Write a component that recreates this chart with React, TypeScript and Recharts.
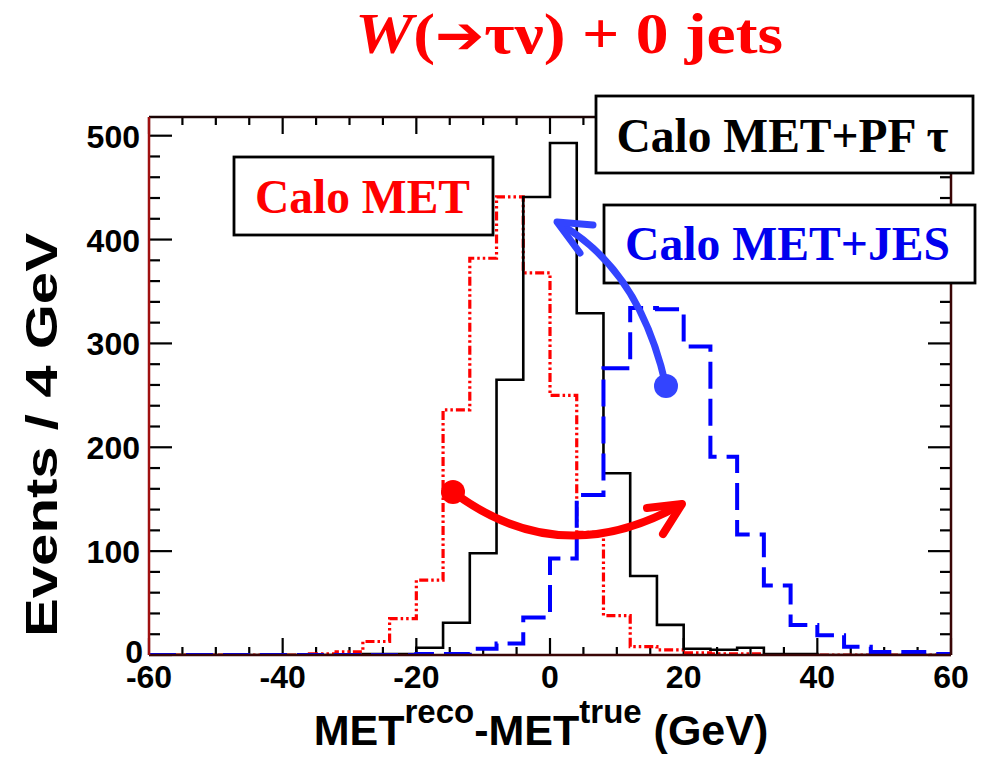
import React from "react";
import { ComposedChart, Line, XAxis, YAxis, ReferenceLine } from "recharts";

// ---- data (bin left edges, 4 GeV bins) ----
const binEdges = [-60, -56, -52, -48, -44, -40, -36, -32, -28, -24, -20, -16, -12, -8, -4, 0, 4, 8, 12, 16, 20, 24, 28, 32, 36, 40, 44, 48, 52, 56];
const lastEdge = 60;
const caloMET = [0, 0, 0, 0, 0, 0, 1, 3, 13, 35, 72, 236, 382, 441, 368, 250, 118, 38, 8, 5, 2, 1, 1, 0, 0, 0, 0, 0, 0, 0];
const caloMETpfTau = [0, 0, 0, 0, 0, 0, 0, 0, 1, 1, 7, 31, 98, 265, 441, 493, 329, 175, 76, 29, 6, 5, 7, 1, 1, 0, 0, 0, 0, 0];
const caloMETjes = [0, 0, 0, 0, 0, 0, 0, 0, 0, 0, 1, 1, 6, 11, 36, 93, 154, 276, 334, 333, 297, 191, 116, 67, 29, 19, 8, 3, 3, 1];
const xTicks = [-60, -55, -50, -45, -40, -35, -30, -25, -20, -15, -10, -5, 0, 5, 10, 15, 20, 25, 30, 35, 40, 45, 50, 55, 60];
const yTicks = [0, 20, 40, 60, 80, 100, 120, 140, 160, 180, 200, 220, 240, 260, 280, 300, 320, 340, 360, 380, 400, 420, 440, 460, 480, 500];
const xLabelTicks = [-60, -40, -20, 0, 20, 40, 60];
const yLabelTicks = [0, 100, 200, 300, 400, 500];

const rows = binEdges.map((e, i) => ({ x: e, red: caloMET[i], black: caloMETpfTau[i], blue: caloMETjes[i] }));
rows.push({ x: lastEdge, red: caloMET[caloMET.length - 1], black: caloMETpfTau[caloMETpfTau.length - 1], blue: caloMETjes[caloMETjes.length - 1] });

const SANS = "'Liberation Sans', Arial, Helvetica, sans-serif";
const SERIF = "'Liberation Serif', 'Times New Roman', serif";
const X_DOMAIN: [number, number] = [-60, 60];
const Y_DOMAIN: [number, number] = [0, 518];

// chart geometry (margins + axis sizes)
const W = 988, H = 758;
const MARGIN = { top: 87, right: 7, bottom: 73, left: 89 };
const XAXIS_H = 30, YAXIS_LW = 60, YAXIS_RW = 30;
const PL = MARGIN.left + YAXIS_LW;
const PR = W - MARGIN.right - YAXIS_RW;
const PT = MARGIN.top + XAXIS_H;
const PB = H - MARGIN.bottom - XAXIS_H;
// pixel -> data unit conversions for tick lengths
const yUnitsPerPx = (Y_DOMAIN[1] - Y_DOMAIN[0]) / (PB - PT);
const xUnitsPerPx = (X_DOMAIN[1] - X_DOMAIN[0]) / (PR - PL);

const BottomLabel = (p: any) => {
  const x = Number(p.x), y = Number(p.y);
  const v = p.payload.value;
  return (
    <text x={x} y={y + 33} textAnchor="middle" fontFamily={SANS} fontWeight="bold" fontSize={32} fill="#000">{v}</text>
  );
};
const LeftLabel = (p: any) => {
  const x = Number(p.x), y = Number(p.y);
  const v = p.payload.value;
  return (
    <text x={v === 0 ? x - 6 : x - 9} y={v === 0 ? y + 8 : y + 12} textAnchor="end" fontFamily={SANS} fontWeight="bold" fontSize={32} fill="#000">{v}</text>
  );
};

export default function App() {
  const tickRefs: React.ReactNode[] = [];
  xTicks.forEach((v) => {
    const len = (v % 20 === 0 ? 17 : 8) * yUnitsPerPx;
    tickRefs.push(
      <ReferenceLine key={"xb" + v} xAxisId="b" yAxisId="l" ifOverflow="visible"
        segment={[{ x: v, y: Y_DOMAIN[0] }, { x: v, y: Y_DOMAIN[0] + len }]} stroke="#000" strokeWidth={2.2} />
    );
    tickRefs.push(
      <ReferenceLine key={"xt" + v} xAxisId="b" yAxisId="l" ifOverflow="visible"
        segment={[{ x: v, y: Y_DOMAIN[1] }, { x: v, y: Y_DOMAIN[1] - len }]} stroke="#000" strokeWidth={2.2} />
    );
  });
  yTicks.forEach((v) => {
    const len = (v % 100 === 0 ? 23 : 11) * xUnitsPerPx;
    tickRefs.push(
      <ReferenceLine key={"yl" + v} xAxisId="b" yAxisId="l" ifOverflow="visible"
        segment={[{ x: X_DOMAIN[0], y: v }, { x: X_DOMAIN[0] + len, y: v }]} stroke="#000" strokeWidth={2.2} />
    );
    tickRefs.push(
      <ReferenceLine key={"yr" + v} xAxisId="b" yAxisId="l" ifOverflow="visible"
        segment={[{ x: X_DOMAIN[1], y: v }, { x: X_DOMAIN[1] - len, y: v }]} stroke="#000" strokeWidth={2.2} />
    );
  });

  return (
    <div style={{ position: "absolute", left: 0, top: 0, width: W, height: H, background: "#fff" }}>
      <ComposedChart width={W} height={H} data={rows} margin={MARGIN}>
        <XAxis xAxisId="b" dataKey="x" type="number" domain={X_DOMAIN} ticks={xLabelTicks} interval={0} height={XAXIS_H}
          tickSize={0} tickMargin={0} tickLine={false} axisLine={{ stroke: "#3a0606", strokeWidth: 2.5 }} tick={BottomLabel} allowDataOverflow />
        <XAxis xAxisId="t" orientation="top" dataKey="x" type="number" domain={X_DOMAIN} height={XAXIS_H}
          tickLine={false} tick={false} axisLine={{ stroke: "#1a0404", strokeWidth: 2.5 }} allowDataOverflow />
        <YAxis yAxisId="l" type="number" domain={Y_DOMAIN} ticks={yLabelTicks} interval={0} width={YAXIS_LW}
          tickSize={0} tickMargin={0} tickLine={false} axisLine={{ stroke: "#a01010", strokeWidth: 2.5 }} tick={LeftLabel} allowDataOverflow />
        <YAxis yAxisId="r" orientation="right" type="number" domain={Y_DOMAIN} width={YAXIS_RW}
          tickLine={false} tick={false} axisLine={{ stroke: "#3a0606", strokeWidth: 2.5 }} allowDataOverflow />
        {tickRefs}
        <Line xAxisId="b" yAxisId="l" type="stepAfter" dataKey="red" stroke="#ff0000" strokeWidth={3.2}
          strokeDasharray="9 3 2.5 3 2.5 3" dot={false} activeDot={false} isAnimationActive={false} strokeLinejoin="miter" />
        <Line xAxisId="b" yAxisId="l" type="stepAfter" dataKey="black" stroke="#000000" strokeWidth={2.6}
          dot={false} activeDot={false} isAnimationActive={false} strokeLinejoin="miter" />
        <Line xAxisId="b" yAxisId="l" type="stepAfter" dataKey="blue" stroke="#0000ff" strokeWidth={4}
          strokeDasharray="27 10" dot={false} activeDot={false} isAnimationActive={false} strokeLinejoin="miter" />
      </ComposedChart>

      <svg width={W} height={H} style={{ position: "absolute", left: 0, top: 0, pointerEvents: "none" }}>
        {/* title */}
        <text x={569} y={53} textAnchor="middle" fontFamily={SERIF} fontWeight="bold" fontSize={58} fill="#ff0000"
          textLength={428} lengthAdjust="spacingAndGlyphs">
          <tspan fontStyle="italic">W</tspan>(<tspan fontFamily="'DejaVu Sans', sans-serif" fontWeight="bold" fontSize={52}>➔</tspan>τν) + 0 jets
        </text>

        {/* legend boxes */}
        <rect x={234} y={157} width={259} height={78} fill="#fff" stroke="#000" strokeWidth={2.8} />
        <text x={362.5} y={213} textAnchor="middle" fontFamily={SERIF} fontWeight="bold" fontSize={48} fill="#ff0000"
          textLength={215} lengthAdjust="spacingAndGlyphs">Calo MET</text>

        <rect x={596} y={96} width={377} height={77} fill="#fff" stroke="#000" strokeWidth={2.8} />
        <text x={782.5} y={152} textAnchor="middle" fontFamily={SERIF} fontWeight="bold" fontSize={48} fill="#000"
          textLength={332} lengthAdjust="spacingAndGlyphs">Calo MET+PF τ</text>

        <rect x={604} y={205} width={371} height={78} fill="#fff" stroke="#000" strokeWidth={2.8} />
        <text x={787.5} y={260} textAnchor="middle" fontFamily={SERIF} fontWeight="bold" fontSize={48} fill="#0000ee"
          textLength={325} lengthAdjust="spacingAndGlyphs">Calo MET+JES</text>

        {/* blue arrow */}
        <path d="M 666 386 Q 640 270 560 224" fill="none" stroke="#3344ff" strokeWidth={7} strokeLinecap="round" />
        <path d="M 593 225 L 557 222 L 580 253" fill="none" stroke="#3344ff" strokeWidth={7} strokeLinecap="round" strokeLinejoin="round" />
        <circle cx={666} cy={386} r={12} fill="#3344ff" />

        {/* red arrow */}
        <path d="M 453 492 Q 560 572 680 505" fill="none" stroke="#ff0000" strokeWidth={8} strokeLinecap="round" />
        <path d="M 647 508 L 682 504 L 663 534" fill="none" stroke="#ff0000" strokeWidth={8} strokeLinecap="round" strokeLinejoin="round" />
        <circle cx={453} cy={492} r={12} fill="#ff0000" />

        {/* axis titles */}
        <text transform="translate(57,435) rotate(-90)" textAnchor="middle" fontFamily={SANS} fontWeight="bold" fontSize={44} fill="#000"
          textLength={404} lengthAdjust="spacingAndGlyphs">Events / 4 GeV</text>
        <text x={541} y={745} textAnchor="middle" fontFamily={SANS} fontWeight="bold" fontSize={43} fill="#000">
          MET<tspan fontSize={33} dy={-22}>reco</tspan><tspan dy={22}>-MET</tspan><tspan fontSize={33} dy={-22}>true</tspan><tspan dy={22}> (GeV)</tspan>
        </text>
      </svg>
    </div>
  );
}
